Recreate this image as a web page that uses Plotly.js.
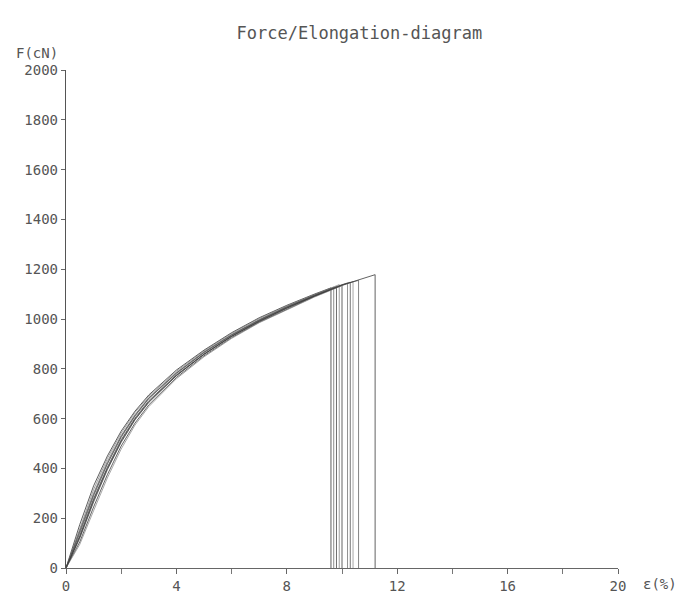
<!DOCTYPE html>
<html>
<head>
<meta charset="utf-8">
<script src="https://cdn.plot.ly/plotly-3.0.1.min.js"></script>
<style>html,body{margin:0;padding:0;background:#fff;}#chart{width:678px;height:600px;}</style>
</head>
<body>
<div id="chart"></div>
<script>
// Elongation (%) and force (cN) for each specimen
var elongA = [0,0.5,1,1.5,2,2.5,3,4,5,6,7,8,9,9.6,9.6];
var forceA = [0,175,330,450,550,630,695,795,875,945,1005,1055,1100,1125,0];
var elongB = [0,0.5,1,1.5,2,2.5,3,4,5,6,7,8,9,9.7,9.7];
var forceB = [0,145,295,420,525,610,680,782,865,935,995,1048,1095,1128,0];
var elongC = [0,0.5,1,1.5,2,2.5,3,4,5,6,7,8,9,9.8,9.8];
var forceC = [0,120,265,395,505,595,665,772,858,930,990,1043,1092,1130,0];
var elongD = [0,0.5,1,1.5,2,2.5,3,4,5,6,7,8,9,9.9,9.9];
var forceD = [0,160,315,440,542,625,690,790,872,942,1002,1052,1098,1138,0];
var elongE = [0,0.5,1,1.5,2,2.5,3,4,5,6,7,8,9,10,10];
var forceE = [0,105,245,375,490,582,655,765,852,925,987,1040,1090,1135,0];
var elongF = [0,0.5,1,1.5,2,2.5,3,4,5,6,7,8,9,10,10.2,10.2];
var forceF = [0,150,300,428,532,616,684,785,868,938,998,1050,1097,1138,1145,0];
var elongG = [0,0.5,1,1.5,2,2.5,3,4,5,6,7,8,9,10,10.3,10.3];
var forceG = [0,130,278,405,515,602,672,776,860,932,993,1046,1093,1136,1148,0];
var elongH = [0,0.5,1,1.5,2,2.5,3,4,5,6,7,8,9,10,10.4,10.4];
var forceH = [0,95,230,362,478,574,648,760,848,922,985,1038,1088,1134,1150,0];
var elongI = [0,0.5,1,1.5,2,2.5,3,4,5,6,7,8,9,10,10.6,10.6];
var forceI = [0,140,290,418,528,612,682,782,866,936,996,1048,1095,1137,1155,0];
var elongJ = [0,0.5,1,1.5,2,2.5,3,4,5,6,7,8,9,10,11.2,11.2];
var forceJ = [0,125,272,400,510,598,668,773,858,930,991,1044,1092,1136,1178,0];

var xTickVals = [0,4,8,12,16,20];
var xTickText = ['0','4','8','12','16','20'];
var yTickVals = [0,200,400,600,800,1000,1200,1400,1600,1800,2000];
var yTickText = ['0','200','400','600','800','1000','1200','1400','1600','1800','2000'];

var xs = [elongA,elongB,elongC,elongD,elongE,elongF,elongG,elongH,elongI,elongJ];
var ys = [forceA,forceB,forceC,forceD,forceE,forceF,forceG,forceH,forceI,forceJ];
var greys = ['rgba(40,40,40,0.75)','rgba(90,90,90,0.7)','rgba(60,60,60,0.75)','rgba(120,120,120,0.7)','rgba(50,50,50,0.75)',
             'rgba(100,100,100,0.7)','rgba(70,70,70,0.75)','rgba(130,130,130,0.7)','rgba(80,80,80,0.7)','rgba(60,60,60,0.8)'];
var traces = xs.map(function(x,i){
  return {x:x, y:ys[i], mode:'lines', type:'scatter', line:{color:greys[i], width:1}, hoverinfo:'skip', showlegend:false};
});

var fnt = {family:'DejaVu Sans Mono, monospace', size:14, color:'#555'};
var layout = {
  width:678, height:600,
  margin:{l:66, r:60, t:70, b:32},
  paper_bgcolor:'#fff', plot_bgcolor:'#fff',
  title:{text:'Force/Elongation-diagram', x:0.53, xanchor:'center', y:0.945, yanchor:'middle',
         font:{family:'DejaVu Sans Mono, monospace', size:17, color:'#555'}},
  xaxis:{range:[0,20], tickmode:'array', tickvals:xTickVals, ticktext:xTickText,
         showgrid:false, zeroline:false, showline:true, linecolor:'#666', linewidth:1,
         ticks:'outside', ticklen:5, tickcolor:'#666', tickfont:fnt,
         minor:{dtick:2, ticks:'outside', ticklen:5, tickcolor:'#777', showgrid:false}},
  yaxis:{range:[0,2000], tickmode:'array', tickvals:yTickVals, ticktext:yTickText,
         showgrid:false, zeroline:false, showline:true, linecolor:'#555', linewidth:1.2,
         ticks:'outside', ticklen:4, tickcolor:'#666', tickfont:fnt},
  annotations:[
    {text:'F(cN)', xref:'paper', yref:'paper', x:-0.095, y:1.015, xanchor:'left', yanchor:'bottom',
     showarrow:false, font:fnt},
    {text:'ε(%)', xref:'paper', yref:'paper', x:1.042, y:0, xanchor:'left', yanchor:'top', yshift:-6,
     showarrow:false, font:fnt}
  ]
};
Plotly.newPlot('chart', traces, layout, {displayModeBar:false, staticPlot:true});
</script>
</body>
</html>
